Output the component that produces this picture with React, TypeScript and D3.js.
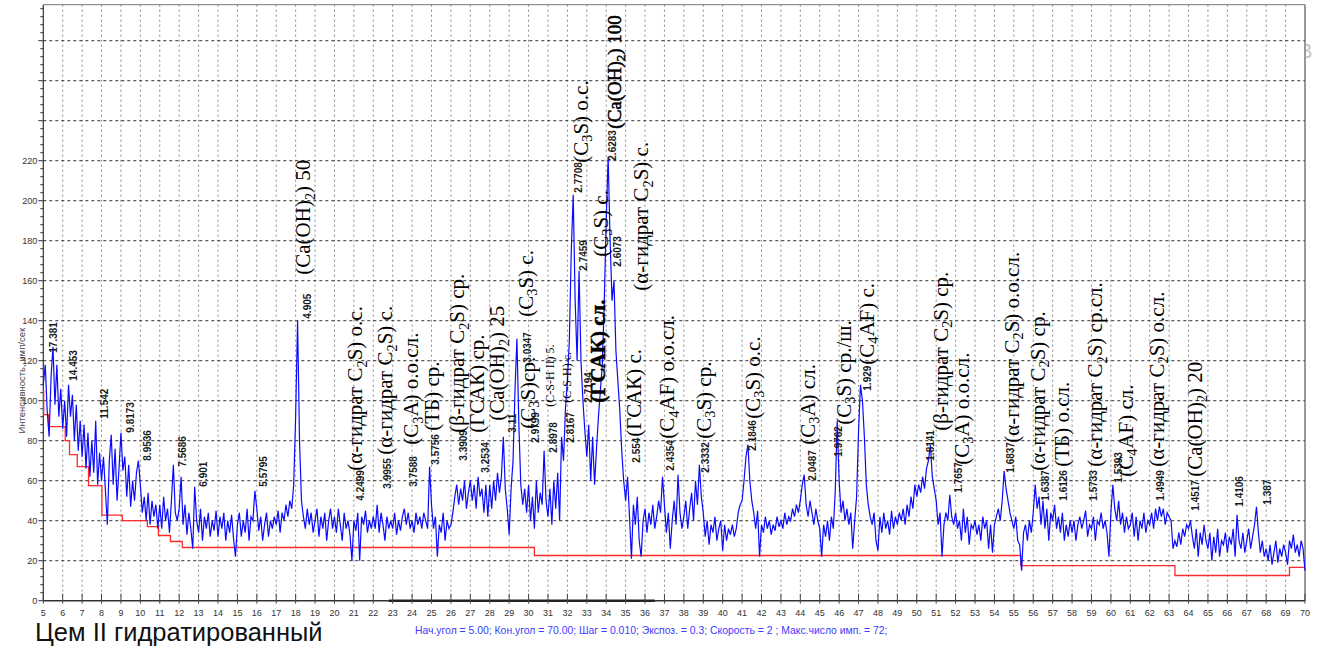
import React from 'react';
import * as d3 from 'd3';

const angleStart = 5;
const angleStep = 0.1;
// hand-read intensity, 5.0 .. 70.0 step 0.1 (one row per degree)
const intensity: number[] = [
  108,118,95,82,112,127,98,118,92,106,
  86,100,82,108,92,103,80,98,75,90,
  72,88,66,84,62,80,64,90,58,74,
  60,72,55,38,70,83,58,76,50,66,
  84,65,72,52,68,47,60,50,64,70,
  58,44,52,40,54,38,50,42,48,36,
  48,36,52,40,46,34,50,68,44,40,
  46,62,38,48,33,44,36,26,57,40,
  34,46,30,42,36,44,32,40,35,45,
  32,42,36,44,30,40,34,43,31,22,
  38,44,32,40,34,46,30,42,40,55,
  46,35,42,30,38,44,32,40,36,42,
  38,45,34,44,40,48,42,50,46,58,
  92,140,80,50,42,36,46,38,44,34,
  40,46,32,42,36,44,30,40,46,36,
  42,34,46,38,30,44,36,40,33,20,
  40,35,44,20,42,38,45,34,40,36,
  42,36,48,34,44,38,30,42,36,40,
  36,44,33,40,35,42,46,38,44,36,
  40,34,44,38,42,36,44,40,36,67,
  48,36,42,22,38,34,44,30,40,36,
  38,44,52,58,48,56,50,60,46,54,
  60,50,58,46,62,52,56,44,58,42,
  58,46,60,50,64,54,62,82,56,46,
  33,56,70,105,131,88,58,48,56,44,
  58,40,52,36,60,44,54,48,75,50,
  42,56,38,60,46,64,40,82,70,96,
  110,130,175,203,150,120,165,120,100,85,
  72,88,60,82,58,76,92,105,118,150,
  190,222,180,150,160,125,110,95,75,60,
  50,62,42,21,48,38,52,30,22,40,
  46,34,44,38,48,36,42,50,44,62,
  48,34,44,26,40,50,38,63,44,36,
  42,50,36,46,54,40,60,48,68,52,
  44,32,40,28,38,34,42,30,36,40,
  25,38,30,36,33,38,32,36,44,48,
  50,60,72,78,60,50,44,36,45,22,
  38,34,42,36,40,33,38,35,42,37,
  40,36,44,38,42,40,46,42,48,44,
  50,58,63,48,42,50,44,38,46,40,
  36,22,38,32,40,30,42,36,55,90,
  60,44,50,40,46,38,44,26,40,52,
  85,108,100,82,58,48,42,38,44,30,
  25,42,34,44,36,40,33,45,36,42,
  38,44,40,46,38,48,42,52,46,58,
  52,58,54,62,56,66,70,78,62,56,
  50,38,44,22,38,44,40,53,42,38,
  44,36,40,30,46,34,42,28,38,36,
  40,33,38,30,42,36,40,26,38,24,
  38,42,46,40,50,65,56,50,44,40,
  36,42,30,28,15,34,38,30,40,34,
  44,58,46,52,38,50,36,46,30,44,
  40,48,36,42,34,44,30,38,32,40,
  34,40,30,38,42,36,40,45,32,38,
  36,42,30,40,38,44,36,40,34,22,
  44,58,46,40,50,38,44,34,42,36,
  38,44,32,42,30,40,36,44,34,40,
  38,44,36,46,40,47,42,46,38,44,
  42,40,26,30,27,34,28,36,32,38,
  36,40,32,26,36,22,34,28,38,30,
  26,34,20,32,24,36,22,30,28,34,
  24,32,28,36,22,43,30,26,34,24,
  30,36,26,32,38,47,34,24,30,22,
  26,20,28,18,24,30,19,26,22,28,
  24,18,30,26,33,24,28,22,30,26,
  15,
];

// background (red step line): start angle of each step, level
const bgAngles = [5.0, 5.02, 5.27, 6.13, 6.35, 6.75, 7.33, 8.02, 9.07, 10.36, 10.93, 11.55, 12.16, 30.3, 55.36, 63.3, 69.2, 70];
const bgLevels = [105, 93, 87, 80, 73, 67, 57.5, 42.8, 40, 37, 32.6, 29.6, 26.6, 22.6, 17.5, 12.6, 16.7, 16.7];

const xTicks = d3.range(5, 71, 1);
const yTickLabels = d3.range(0, 221, 20);
const yGrid = d3.range(20, 298, 20);

// d-spacing labels: text, angle (2θ) of label foot, intensity at label foot
const dLabels: [string, number, number][] = [
  ['17.381', 5.52, 124], ['14.453', 6.55, 110], ['11.542', 8.14, 91], ['9.8173', 9.48, 84],
  ['8.9536', 10.36, 70], ['7.5686', 12.16, 67], ['6.901', 13.25, 57], ['5.5795', 16.34, 57],
  ['4.905', 18.61, 141], ['4.2499', 21.34, 50], ['3.9955', 22.73, 56], ['3.7588', 24.07, 57],
  ['3.5756', 25.21, 68], ['3.3909', 26.65, 70], ['3.2534', 27.78, 64], ['3.11', 29.18, 84],
  ['3.0347', 29.95, 119], ['2.9799', 30.36, 79], ['2.8978', 31.29, 74], ['2.8167', 32.16, 79],
  ['2.7708', 32.58, 204], ['2.7459', 32.84, 165], ['2.7194', 33.09, 99], ['2.6283', 34.33, 220],
  ['2.6073', 34.59, 167], ['2.554', 35.57, 69], ['2.4354', 37.32, 65], ['2.3332', 39.12, 64],
  ['2.1846', 41.55, 75], ['2.0487', 44.64, 60], ['1.9762', 45.98, 72], ['1.929', 47.47, 105],
  ['1.8141', 50.72, 70], ['1.7657', 52.16, 54], ['1.6837', 54.85, 64], ['1.6387', 56.65, 50],
  ['1.6126', 57.58, 50], ['1.5733', 59.12, 50], ['1.5393', 60.41, 59], ['1.4949', 62.58, 50],
  ['1.4517', 64.38, 45], ['1.4106', 66.6, 47], ['1.387', 68.09, 48],
];

// phase labels: text ("_x" = subscript), angle, intensity at label foot, style
const phaseLabels: [string, number, number, string][] = [
  ['(Ca(OH)_2) 50', 18.40, 163, 'n'],
  ['(α-гидрат C_2S) о.с.', 21.08, 65, 'n'],
  ['(α-гидрат C_2S) с.', 22.63, 73, 'n'],
  ['(C_3A) о.о.сл.', 23.97, 78, 'n'],
  ['(ТБ) ср.', 25.05, 85, 'n'],
  ['(β-гидрат C_2S) ср.', 26.34, 84, 'n'],
  ['(ГСАК) ср.', 27.37, 84, 'n'],
  ['(Ca(OH)_2) 25', 28.40, 90, 'n'],
  ['(C_3S)ср.', 29.95, 86, 'n'],
  ['(C_3S) с.', 29.85, 142, 'n'],
  ['(C-S-H II) 5.', 31.08, 97, 's'],
  ['(C-S-H) с.', 31.96, 99, 's'],
  ['(C_3S) о.с.', 32.68, 219, 'n'],
  ['(C_3S) с.', 33.71, 172, 'n'],
  ['(ГСАК) сл.', 33.56, 99, 'b'],
  ['(Ca(OH)_2) 100', 34.43, 236, 'c'],
  ['(α-гидрат C_2S) с.', 35.82, 155, 'n'],
  ['(ГСАК) с.', 35.41, 82, 'n'],
  ['(C_4AF) о.о.сл.', 37.16, 81, 'n'],
  ['(C_3S) ср.', 39.02, 81, 'n'],
  ['(C_3S) о.с.', 41.55, 91, 'n'],
  ['(C_3A) сл.', 44.38, 78, 'n'],
  ['(C_3S) ср./ш.', 46.24, 88, 'n'],
  ['(C_4AF) с.', 47.42, 118, 'n'],
  ['(β-гидрат C_2S) ср.', 51.24, 85, 'n'],
  ['(C_3A) о.о.сл.', 52.32, 68, 'n'],
  ['(α-гидрат C_2S) о.о.сл.', 54.90, 79, 'n'],
  ['(α-гидрат C_2S) ср.', 56.24, 65, 'n'],
  ['(ТБ) о.сл.', 57.47, 67, 'n'],
  ['(α-гидрат C_2S) ср.сл.', 59.18, 67, 'n'],
  ['(C_4AF) сл.', 60.77, 62, 'n'],
  ['(α-гидрат C_2S) о.сл.', 62.37, 67, 'n'],
  ['(Ca(OH)_2) 20', 64.33, 62, 'n'],
];

const caption = 'Цем II гидратированный';
const params = 'Нач.угол = 5.00;  Кон.угол = 70.00;  Шаг = 0.010;  Экспоз. = 0.3;  Скорость =  2 ;  Макс.число имп. = 72;';
const yTitle = 'Интенсивность, имп/сек';

const W = 1322, H = 651;

function rich(s: string, sub: number, shift: number) {
  const parts = s.split(/_(.)/);
  return parts.map((p, i) =>
    i % 2 === 1
      ? <tspan key={i} dy={shift} fontSize={sub}>{p}</tspan>
      : i > 0
        ? <tspan key={i} dy={-shift}>{p}</tspan>
        : <tspan key={i}>{p}</tspan>
  );
}

export default function App() {
  const x = d3.scaleLinear().domain([5, 70]).range([43.3, 1305]);
  const y = d3.scaleLinear().domain([0, 298]).range([600.7, 4.7]);
  const pts: [number, number][] = intensity.map((v, i) => [angleStart + i * angleStep, v]);
  const line = d3.line<[number, number]>().x(d => x(d[0])).y(d => y(d[1]));
  const bgPts: [number, number][] = bgAngles.map((a, i) => [a, bgLevels[i]]);
  const step = d3.line<[number, number]>().x(d => x(d[0])).y(d => y(d[1])).curve(d3.curveStepAfter);
  const yMinor = d3.range(0, 298, 4);
  const top = y(298);
  return (
    <svg width={W} height={H} style={{ position: 'absolute', left: 0, top: 0, background: '#fff' }}>
      <defs>
        <clipPath id="edge"><rect x={x(70) + 1} y={0} width={30} height={120} /></clipPath>
      </defs>
      {/* grid */}
      {xTicks.slice(1, -1).map(t => (
        <line key={'vx' + t} x1={x(t)} x2={x(t)} y1={top} y2={y(0)} stroke="#8a8a8a" strokeWidth={1} strokeDasharray="2,3" />
      ))}
      {yGrid.map(t => (
        <line key={'hy' + t} x1={x(5)} x2={x(70)} y1={y(t)} y2={y(t)} stroke="#333" strokeWidth={1} strokeDasharray="3,3" />
      ))}
      {/* frame */}
      <line x1={x(5)} x2={x(70)} y1={top} y2={top} stroke="#777" strokeWidth={1} />
      <line x1={x(70)} x2={x(70)} y1={top} y2={y(0)} stroke="#555" strokeWidth={1.2} />
      <line x1={x(5)} x2={x(5)} y1={top} y2={y(0)} stroke="#333" strokeWidth={1.2} />
      <text x={x(70) - 6} y={58} fontFamily="Liberation Sans, Arial" fontSize={20} fill="#c4c4c4" clipPath="url(#edge)">В</text>
      {/* y ticks */}
      {yMinor.map(t => (
        <line key={'ym' + t} x1={x(5) - (t % 20 === 0 ? 5 : 3)} x2={x(5)} y1={y(t)} y2={y(t)} stroke="#333" strokeWidth={1} />
      ))}
      {yTickLabels.map(t => (
        <text key={'yl' + t} x={x(5) - 6} y={y(t)} dy="0.35em" textAnchor="end" fontFamily="Liberation Sans, Arial" fontSize={9} fill="#333">{t}</text>
      ))}
      <text transform={`translate(22,${y(110)}) rotate(-90)`} textAnchor="middle" dy="0.35em" fontFamily="Liberation Sans, Arial" fontSize={9.5} fill="#444">{yTitle}</text>
      {/* data */}
      <path d={step(bgPts) || ''} fill="none" stroke="#ff2a2a" strokeWidth={1.3} />
      <path d={line(pts) || ''} fill="none" stroke="#0a0aff" strokeWidth={1.2} />
      {/* x axis */}
      <line x1={x(5)} x2={x(70)} y1={y(0)} y2={y(0)} stroke="#333" strokeWidth={1.6} />
      <line x1={x(22.8)} x2={x(36.5)} y1={y(0)} y2={y(0)} stroke="#222" strokeWidth={2.6} />
      {xTicks.map(t => (
        <line key={'xt' + t} x1={x(t)} x2={x(t)} y1={y(0) - 7} y2={y(0) + 3} stroke="#444" strokeWidth={1} />
      ))}
      {xTicks.map(t => (
        <text key={'xl' + t} x={x(t)} y={616} textAnchor="middle" fontFamily="Liberation Sans, Arial" fontSize={9} fill="#333">{t}</text>
      ))}
      {/* d-spacing labels */}
      {dLabels.map(([s, a, v], i) => (
        <text key={'d' + i} transform={`translate(${x(a)},${y(v)}) rotate(-90)`} dy="0.35em" fontFamily="Liberation Sans, Arial" fontSize={10} fontWeight="bold" fill="#1a1a1a">{s}</text>
      ))}
      {/* phase labels */}
      {phaseLabels.map(([s, a, v, st], i) => {
        const fs = st === 's' ? 12 : st === 'c' ? 19 : 21;
        const heavy = st === 'b' || st === 'c';
        return (
          <text key={'p' + i} transform={`translate(${x(a)},${y(v)}) rotate(-90)`} dy="0.33em" fontFamily="Liberation Serif, Times New Roman" fontSize={fs} fontWeight={st === 'b' ? 'bold' : 'normal'} stroke={heavy ? '#000' : 'none'} strokeWidth={heavy ? 0.5 : 0} fill="#000">
            {rich(s, fs * 0.68, fs * 0.22)}
          </text>
        );
      })}
      {/* captions */}
      <text x={35} y={641} fontFamily="Liberation Sans, Arial" fontSize={25.5} fill="#111">{caption}</text>
      <text x={415} y={634} fontFamily="Liberation Sans, Arial" fontSize={10.4} fill="#3b3bff">{params}</text>
    </svg>
  );
}
